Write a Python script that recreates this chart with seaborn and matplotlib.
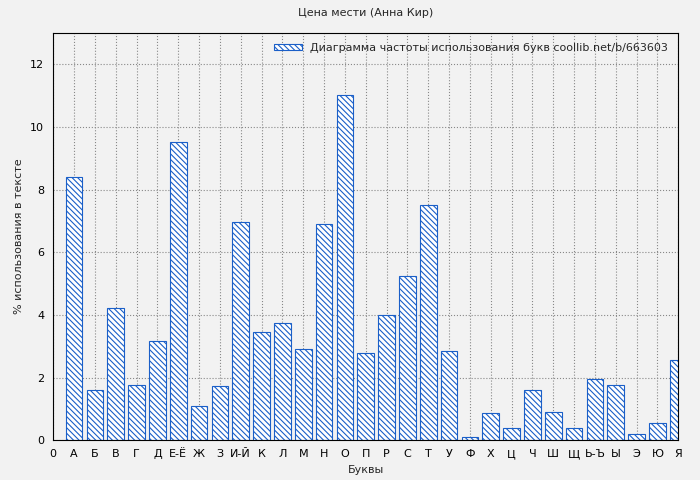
import matplotlib
matplotlib.use("Agg")
import matplotlib.pyplot as plt
import seaborn as sns
import pandas as pd

letters = ["А","Б","В","Г","Д","Е-Ё","Ж","З","И-Й","К","Л","М","Н","О","П","Р","С","Т","У","Ф","Х","Ц","Ч","Ш","Щ","Ь-Ъ","Ы","Э","Ю","Я"]
values = [8.4,1.6,4.21,1.75,3.16,9.51,1.08,1.72,6.96,3.45,3.73,2.9,6.89,11.01,2.78,3.99,5.23,7.5,2.84,0.1,0.86,0.38,1.6,0.89,0.38,1.95,1.75,0.19,0.54,2.55]
tick_labels = ["0"] + letters

sns.set_style("whitegrid")
plt.rcParams['font.family'] = ['DejaVu Sans']
plt.rcParams['font.size'] = 8
plt.rcParams['hatch.color'] = '#1a5fc8'
plt.rcParams['hatch.linewidth'] = 0.8

df = pd.DataFrame({"pos": list(range(1, len(letters)+1)), "val": values})
fig, ax = plt.subplots(figsize=(7, 4.8), dpi=100)
fig.patch.set_facecolor('#f2f2f2')
ax.set_facecolor('#f2f2f2')
sns.barplot(data=df, x="pos", y="val", native_scale=True, width=0.8,
            color="white", edgecolor="#1a5fc8", linewidth=0.8, hatch='\\\\\\\\\\\\',
            ax=ax, label="Диаграмма частоты использования букв coollib.net/b/663603")
for p in ax.patches:
    p.set_facecolor('white'); p.set_hatch('\\\\\\\\\\\\')
ax.set_xlim(0, 30)
ax.set_ylim(0, 13)
ax.set_xticks(range(0, 31))
ax.set_xticklabels(tick_labels)
ax.set_yticks(range(0, 13, 2))
ax.grid(True, color='#888888', linestyle=':', linewidth=0.8)
ax.set_axisbelow(True)
for s in ax.spines.values():
    s.set_color('black'); s.set_linewidth(0.8)
ax.tick_params(colors='black', labelsize=8, length=3)
ax.set_xlabel("Буквы", fontsize=8)
ax.set_ylabel("% использования в тексте", fontsize=8)
ax.set_title("Цена мести (Анна Кир)", fontsize=8, pad=12)
leg = ax.legend(loc='upper right', frameon=False, fontsize=8, handlelength=2.5, handleheight=0.5)
fig.subplots_adjust(left=0.076, right=0.969, top=0.931, bottom=0.083)
fig.savefig("out.png", dpi=100, facecolor=fig.get_facecolor())
